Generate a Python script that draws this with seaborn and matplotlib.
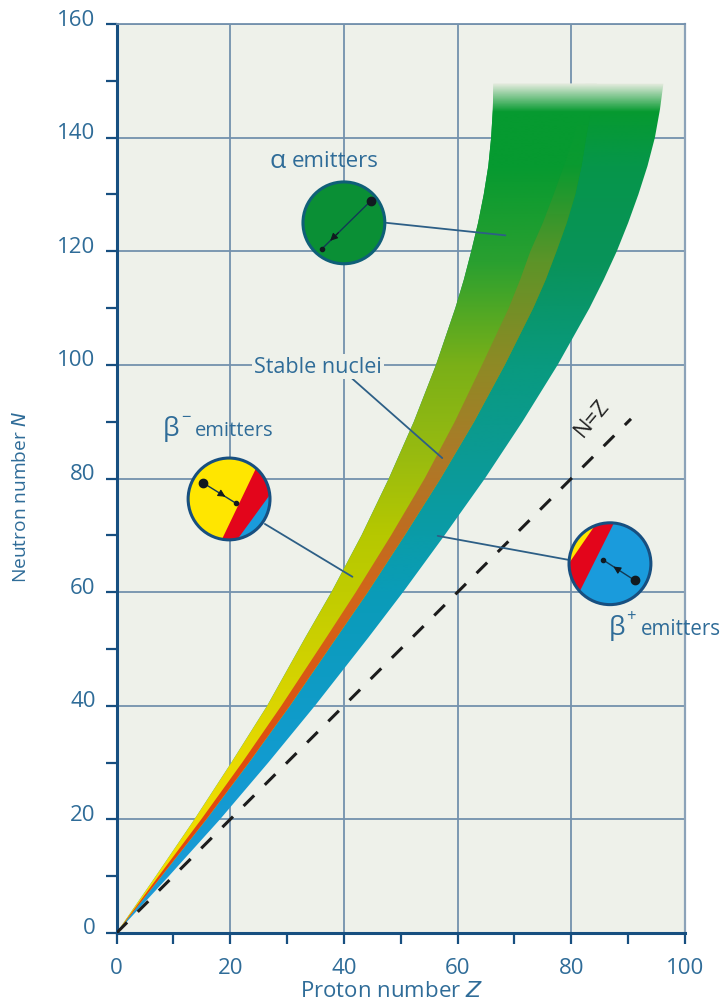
import numpy as np
import seaborn as sns
import matplotlib.pyplot as plt
from matplotlib.colors import LinearSegmentedColormap
from matplotlib.patches import Circle, Polygon
from matplotlib.transforms import ScaledTranslation

# band edges: proton number Z at each neutron number N
n_edges = [0, 10, 20, 30, 40, 52, 60, 70, 80, 90, 100, 110, 115, 120, 125, 130, 135, 140, 145, 149.5]
z_left = [0, 6.9, 13.7, 20.2, 26.5, 33.2, 37.8, 43.1, 47.9, 52.3, 56.2, 59.6, 61.1, 62.4, 63.6, 64.6, 65.4, 65.9, 66.2, 66.3]
z_stable_l = [0, 7.4, 14.9, 22.1, 29.0, 36.9, 42.1, 48.3, 54.2, 59.5, 64.3, 69.0, 71.0, 72.8, 75.0, 76.9, 78.7, 80.4, 81.5, 82.5]
z_stable_r = [0, 7.9, 15.8, 23.3, 30.5, 38.7, 44.2, 50.7, 57.0, 62.9, 68.3, 73.3, 75.5, 77.4, 79.2, 80.7, 81.8, 82.6, 83.5, 84.5]
z_right = [0, 9.2, 18.2, 26.7, 34.9, 44.3, 50.4, 57.7, 64.8, 71.4, 77.6, 83.2, 85.7, 88.0, 90.0, 91.8, 93.4, 94.7, 95.6, 96.2]

# colour along each region, by neutron number
n_stops = [0, 30, 60, 70, 84, 100, 118, 135, 144.5, 149.5]
fade = '#e6ece0'
beta_minus_cols = ['#f8e400', '#e8da00', '#c0cc00', '#b6c800', '#98bb10', '#7ab018', '#2aa030', '#069a30', '#069a30', fade]
stable_cols = ['#e8400c', '#e04c10', '#d2661a', '#c06c20', '#ac7a28', '#8e8a25', '#5d9428', '#0a9a30', '#069a30', fade]
beta_plus_cols = ['#1e9ad8', '#129bd0', '#0a9cb8', '#0a9ca8', '#0c9a94', '#099a7f', '#09935a', '#06964a', '#069a30', fade]

# pie circles: centre (Z, N), radius
alpha_c = (40.0, 125.0)
minus_c = (19.8, 76.4)
plus_c = (86.8, 65.0)
radius = 7.2

bg = '#eef1ea'
ink = '#2f6c98'
dark = '#174f80'
grid_c = '#7391ad'
font = 'Open Sans'

sns.set_theme(style='ticks')
plt.rcParams['font.family'] = [font, 'DejaVu Sans']

fig = plt.figure(figsize=(7.22, 10.04), dpi=100)
ax = fig.add_axes([116.5 / 722, 70 / 1004, 568.5 / 722, 909 / 1004])
ax.set_facecolor(bg)


def region(left, right, cols, zorder):
    cmap = LinearSegmentedColormap.from_list('c', [(n / 150, c) for n, c in zip(n_stops, cols)] + [(1, cols[-1])], N=2048)
    img = ax.imshow(np.linspace(0, 1, 1200).reshape(-1, 1), origin='lower', extent=[0, 100, 0, 150],
                    cmap=cmap, vmin=0, vmax=1, aspect='auto', zorder=zorder, interpolation='bilinear')
    pts = list(zip(left, n_edges)) + list(zip(right[::-1], n_edges[::-1]))
    poly = Polygon(pts, closed=True, transform=ax.transData, fc='none', ec='none')
    ax.add_patch(poly)
    img.set_clip_path(poly)


region(z_left, z_right, beta_plus_cols, 2)
region(z_left, z_stable_r, beta_minus_cols, 2.1)
region(z_stable_l, z_stable_r, stable_cols, 2.2)

# N = Z line
sns.lineplot(x=[0, 90.5], y=[0, 90.5], ax=ax, color='#1c1c1c', lw=2.2, zorder=3, dashes=(4.9, 4.9))

ax.set_xlim(0, 100)
ax.set_ylim(0, 160)
ax.set_xticks(range(0, 101, 20))
ax.set_xticks(range(10, 100, 20), minor=True)
ax.set_yticks(range(0, 161, 20))
ax.set_yticks(range(10, 160, 20), minor=True)
ax.grid(True, which='major', color=grid_c, lw=1.3, zorder=1)
ax.set_axisbelow(True)
ax.tick_params(which='both', length=8, width=1.6, color=dark, direction='out')
ax.tick_params(axis='x', which='major', labelsize=16, labelcolor=ink, pad=9)
ax.tick_params(axis='y', which='major', labelsize=16, labelcolor=ink, pad=7)
shift = ScaledTranslation(0, 7.5 / 100, fig.dpi_scale_trans)
for lab in ax.get_yticklabels():
    lab.set_transform(lab.get_transform() + shift)
for s in ['left', 'bottom']:
    ax.spines[s].set_color(dark)
    ax.spines[s].set_linewidth(2.2)
ax.spines['right'].set_color('#8ba2b8')
ax.spines['right'].set_linewidth(1.6)
ax.spines['top'].set_color(grid_c)
ax.spines['top'].set_linewidth(1.3)

fig.text(392 / 722, 1 - 992 / 1004, 'Proton number $\\mathit{Z}$', color=ink, fontsize=16, ha='center', va='center',
         math_fontfamily='dejavusans')
fig.text(21 / 722, 1 - 497 / 1004, 'Neutron number $\\mathit{N}$', color=ink, fontsize=13.8, ha='center', va='center',
         rotation=90, math_fontfamily='dejavusans')


def pie(center, edge, base, slices, big, small, head):
    cx, cy = center
    clip = Circle(center, radius, transform=ax.transData, fc=base, ec='none', zorder=5)
    ax.add_patch(clip)
    for pts, col in slices:
        p = Polygon([(cx + radius * x, cy + radius * y) for x, y in pts], closed=True, fc=col, ec='none', zorder=5.1)
        ax.add_patch(p)
        p.set_clip_path(clip)
    ax.add_patch(Circle(center, radius, fc='none', ec=edge, lw=2.2, zorder=5.5))
    bx, by = cx + radius * big[0], cy + radius * big[1]
    sx, sy = cx + radius * small[0], cy + radius * small[1]
    ax.plot([bx, sx], [by, sy], color='#123a55', lw=1, zorder=6)
    ax.plot(bx, by, 'o', ms=6, color='#111a20', zorder=6)
    ax.plot(sx, sy, 'o', ms=3, color='#111a20', zorder=6)
    ax.annotate('', xy=(bx + head * (sx - bx), by + head * (sy - by)),
                xytext=(bx + (head - 0.25) * (sx - bx), by + (head - 0.25) * (sy - by)),
                arrowprops=dict(arrowstyle='-|>', color='#111a20', lw=0.8, mutation_scale=11), zorder=6)


pie(alpha_c, '#0f5f78', '#0a8f35', [], (0.66, 0.54), (-0.54, -0.64), 0.87)
pie(minus_c, dark, '#ffe600',
    [([(0.85, 1.15), (-0.3, -1.25), (1.5, -1.5), (1.5, 1.15)], '#e3051b'),
     ([(1.25, 0.45), (0.05, -1.2), (1.5, -1.5), (1.5, 0.45)], '#1a9bdc')],
    (-0.63, 0.39), (0.16, -0.10), 0.76)
pie(plus_c, dark, '#1a9bdc',
    [([(0.2, 1.2), (-0.85, -0.9), (-1.5, -0.9), (-1.5, 1.2)], '#e3051b'),
     ([(-0.15, 1.25), (-1.25, -0.35), (-1.5, -0.35), (-1.5, 1.25)], '#ffe600')],
    (0.61, -0.41), (-0.18, 0.10), 0.74)

# leader lines
leaders = [((47.5, 125.0), (68.4, 122.8)), ((41.1, 97.9), (57.3, 83.6)),
           ((26.1, 72.0), (41.5, 62.7)), ((56.5, 69.9), (79.4, 65.7))]
for a, b in leaders:
    ax.plot([a[0], b[0]], [a[1], b[1]], color='#2d5f86', lw=1.3, zorder=4)

ax.text(35.4, 99.7, 'Stable nuclei', color=ink, fontsize=15.5, ha='center', va='center', zorder=4.5,
        bbox=dict(fc=bg, ec='none', pad=1.5))
ax.text(83.6, 90.8, 'N=Z', color='#222222', fontsize=16, rotation=50, ha='center', va='center', zorder=4)

# emitter labels: greek letter, then smaller word
ax.text(26.9, 135.9, '\u03b1', color=ink, fontsize=19, ha='left', va='center', zorder=4)
ax.text(30.9, 135.9, 'emitters', color=ink, fontsize=16, ha='left', va='center', zorder=4)
ax.text(8.2, 88.9, '\u03b2', color=ink, fontsize=19, ha='left', va='center', zorder=4)
ax.text(11.3, 90.9, '\u2212', color=ink, fontsize=12, ha='left', va='center', zorder=4)
ax.text(13.8, 88.6, 'emitters', color=ink, fontsize=14.5, ha='left', va='center', zorder=4)
ax.text(86.6, 53.8, '\u03b2', color=ink, fontsize=19, ha='left', va='center', zorder=7)
ax.text(89.7, 55.8, '+', color=ink, fontsize=12, ha='left', va='center', zorder=7)
ax.text(92.2, 53.6, 'emitters', color=ink, fontsize=14.8, ha='left', va='center', zorder=7)

fig.savefig('out.png', dpi=100)
